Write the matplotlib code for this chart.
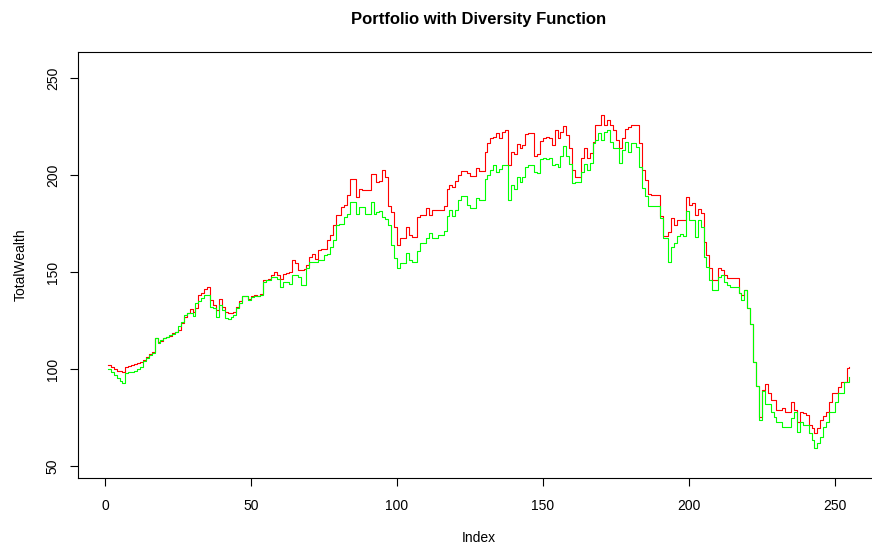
import numpy as np
import matplotlib
matplotlib.use("Agg")
import matplotlib.pyplot as plt

plt.rcParams['font.family'] = ['Liberation Sans', 'DejaVu Sans']

# wealth with diversity function (red) and without (green)
wealth_red = [
    102.1, 100.8, 99.8, 99.2, 98.8, 98.3, 101.0, 101.5, 102.0, 102.6,
    103.2, 103.4, 104.6, 106.3, 107.7, 108.6, 115.8, 114.1, 114.6, 115.8,
    116.3, 117.0, 118.4, 119.0, 120.1, 123.6, 126.6, 128.7, 130.8, 129.6,
    131.3, 138.2, 139.1, 141.2, 142.5, 135.6, 133.1, 130.5, 136.0, 132.2,
    129.6, 128.7, 129.0, 129.6, 132.2, 134.8, 137.7, 137.4, 136.0, 137.7,
    138.0, 137.5, 138.5, 145.8, 145.8, 146.5, 148.4, 150.2, 148.4, 146.5,
    149.0, 149.5, 150.0, 156.1, 154.4, 151.0, 151.0, 151.5, 153.6, 157.8,
    159.5, 156.9, 161.2, 162.0, 162.0, 166.3, 168.9, 174.0, 179.2, 179.5,
    183.5, 184.3, 189.5, 198.1, 198.1, 188.6, 193.0, 192.1, 192.1, 192.5,
    200.7, 200.7, 196.6, 197.0, 202.6, 199.2, 184.0, 181.0, 173.0, 164.0,
    167.4, 167.4, 173.4, 169.0, 168.0, 168.0, 178.5, 179.4, 179.4, 182.8,
    179.4, 182.0, 182.0, 182.0, 182.0, 184.0, 192.6, 195.0, 194.0, 197.0,
    200.0, 202.0, 202.0, 201.0, 199.5, 199.5, 203.8, 202.0, 202.0, 212.0,
    216.4, 219.0, 219.8, 221.5, 219.0, 222.4, 223.0, 205.0, 212.0, 211.0,
    216.0, 214.0, 215.6, 221.0, 221.5, 221.5, 210.0, 211.0, 217.5, 219.0,
    219.8, 219.0, 215.4, 223.0, 219.0, 222.4, 225.0, 220.6, 213.7, 202.6,
    199.0, 199.0, 208.6, 213.7, 208.6, 211.2, 217.2, 225.8, 225.8, 231.0,
    225.8, 228.3, 225.8, 223.2, 218.0, 213.7, 218.9, 223.5, 224.9, 225.8,
    225.8, 225.8, 216.3, 202.6, 197.4, 190.0, 189.7, 189.7, 189.7, 179.0,
    168.6, 168.6, 170.5, 177.6, 174.0, 176.7, 176.7, 176.8, 188.8, 184.4,
    185.7, 179.3, 182.3, 180.2, 165.6, 158.7, 151.9, 145.9, 145.9, 151.9,
    151.0, 148.4, 146.7, 146.7, 146.7, 146.7, 139.1, 138.2, 140.8, 131.5,
    123.0, 103.8, 91.0, 75.0, 89.2, 92.1, 87.5, 84.0, 84.0, 78.9,
    78.9, 79.7, 78.0, 78.0, 83.2, 78.9, 72.8, 78.0, 77.1, 76.3,
    71.1, 69.4, 66.8, 69.4, 73.7, 76.0, 78.0, 83.2, 87.5, 87.5,
    90.9, 93.5, 93.5, 100.4, 101.0,
]

wealth_green = [
    99.9, 98.6, 96.9, 95.2, 94.0, 93.0, 97.8, 98.4, 98.6, 99.2,
    99.9, 101.0, 103.9, 105.6, 107.3, 108.2, 115.8, 113.6, 115.0, 115.8,
    116.3, 117.6, 118.0, 119.2, 121.9, 124.4, 127.9, 128.7, 129.0, 127.3,
    133.9, 134.8, 136.5, 138.2, 138.2, 132.2, 131.4, 126.9, 133.1, 130.5,
    126.1, 125.6, 126.6, 127.8, 131.4, 133.9, 137.7, 137.4, 135.6, 137.0,
    137.5, 137.5, 138.0, 145.0, 145.8, 146.0, 147.5, 147.5, 146.5, 142.4,
    144.9, 144.9, 144.0, 148.4, 148.4, 147.5, 143.2, 143.2, 151.9, 155.3,
    155.3, 155.3, 156.1, 156.1, 158.6, 159.5, 163.0, 166.3, 174.0, 174.9,
    174.9, 178.3, 180.0, 186.0, 186.0, 180.0, 183.5, 183.5, 180.0, 180.0,
    186.0, 180.0, 180.9, 181.5, 178.3, 177.4, 174.0, 164.0, 157.0, 152.0,
    154.6, 154.6, 160.0, 156.0, 155.0, 155.0, 160.6, 165.0, 165.0, 167.4,
    170.0, 167.4, 167.4, 169.0, 169.0, 171.0, 178.6, 182.0, 179.0, 182.0,
    187.0, 189.0, 189.0, 184.6, 183.0, 183.0, 188.0, 187.0, 187.0, 198.0,
    200.0, 202.6, 205.0, 201.7, 203.0, 205.0, 205.0, 187.0, 194.9, 193.0,
    199.0, 196.6, 199.0, 204.0, 205.0, 205.0, 201.7, 200.8, 208.0, 209.0,
    208.0, 208.6, 205.0, 205.7, 204.0, 210.0, 215.0, 210.0, 205.7, 195.7,
    196.6, 196.6, 201.7, 205.7, 202.6, 206.0, 216.3, 218.0, 221.8, 218.0,
    222.3, 223.2, 217.2, 213.7, 213.7, 206.0, 212.9, 217.2, 212.0, 216.3,
    216.3, 214.6, 204.3, 193.1, 189.0, 184.0, 184.0, 184.0, 184.0, 178.0,
    167.7, 167.7, 155.0, 163.0, 165.0, 168.6, 169.5, 168.7, 181.5, 176.8,
    176.8, 167.9, 176.8, 173.3, 157.9, 152.7, 145.9, 140.8, 140.8, 147.6,
    148.4, 145.0, 143.3, 142.5, 142.5, 142.5, 139.1, 135.6, 140.8, 131.5,
    123.0, 103.8, 91.0, 73.7, 88.4, 81.9, 81.9, 78.0, 75.4, 72.8,
    72.8, 70.3, 70.3, 70.3, 74.5, 78.0, 67.7, 72.8, 71.1, 71.1,
    66.8, 63.4, 59.1, 61.7, 65.1, 70.3, 72.8, 78.0, 78.0, 83.2,
    87.5, 87.5, 93.5, 93.5, 96.1,
]

x_ticks = [0, 50, 100, 150, 200, 250]
y_ticks = [50, 100, 150, 200, 250]

index = np.arange(1, len(wealth_red) + 1)

fig = plt.figure(figsize=(8.72, 5.5), dpi=100)
ax = fig.add_axes([0.0894, 0.1309, 0.9186, 0.7746])

# R style type="s" steps
ax.step(index, wealth_red, where='post', color='#ff0000', lw=0.8)
ax.step(index, wealth_green, where='post', color='#00ff00', lw=0.8)

ax.set_xlim(-9.25, 265.1)
ax.set_ylim(43.8, 263.4)
ax.set_xticks(x_ticks)
ax.set_yticks(y_ticks)
ax.set_yticklabels([str(v) for v in y_ticks], rotation=90, va='center')
ax.tick_params(direction='out', length=6, width=0.8, labelsize=10, colors='black')
ax.tick_params(axis='x', pad=9)
ax.tick_params(axis='y', pad=7)
for s in ax.spines.values():
    s.set_linewidth(0.8)
ax.spines['right'].set_visible(False)

ax.set_xlabel("Index", fontsize=10, labelpad=13)
ax.set_ylabel("TotalWealth", fontsize=10, labelpad=13)
fig.text(0.5487, 0.965, "Portfolio with Diversity Function",
         ha='center', va='center', fontsize=12, fontweight='bold')

plt.savefig("out.png", dpi=100)
